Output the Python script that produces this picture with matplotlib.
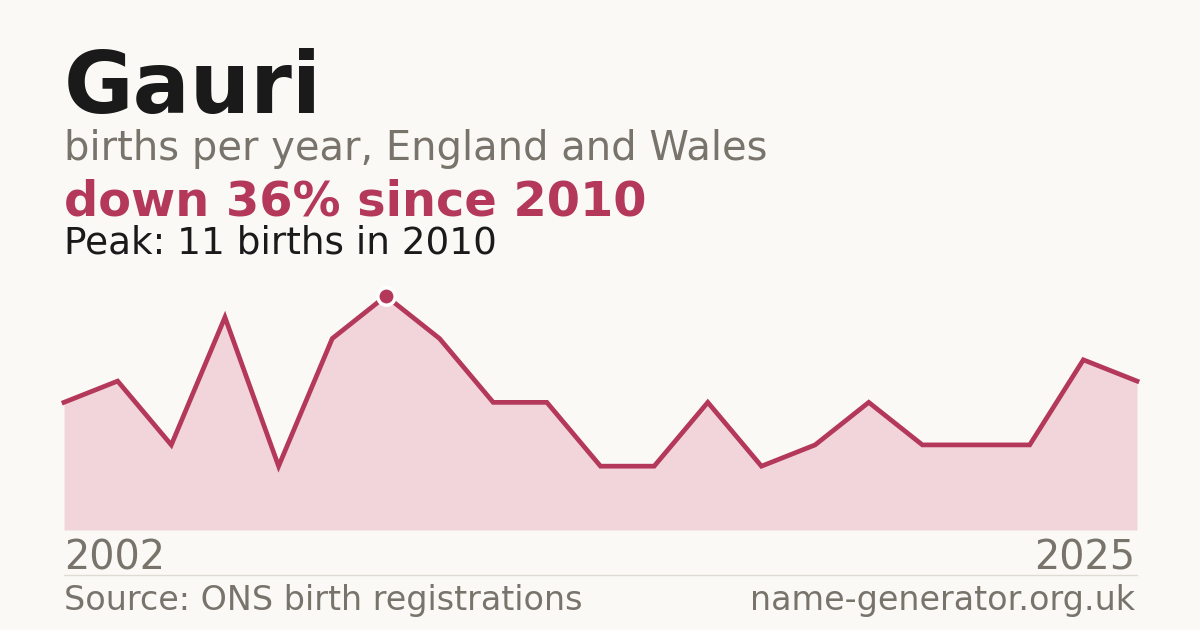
import matplotlib
matplotlib.use("Agg")
import matplotlib.pyplot as plt

name = "Gauri"
start_year = "2002"
end_year = "2025"
values = [6, 7, 4, 10, 3, 9, 11, 9, 6, 6, 3, 3, 6, 3, 4, 6, 4, 4, 4, 8, 7]
peak_index = 6

BG = "#faf9f5"
RED = "#b3385a"
FILL = "#f2d5db"
GRAY = "#78736b"
DARK = "#1a1a1a"

W, H = 1200, 630
fig = plt.figure(figsize=(12, 6.3), dpi=100, facecolor=BG)

def fx(px):
    return px / W

def fy(py):
    return 1 - py / H

# chart axes: x 64..1137, y baseline 530, top (value 11) at 296
ax = fig.add_axes([fx(64), fy(530), fx(1137) - fx(64), (530 - 296) / H])
ax.set_facecolor(BG)
xs = list(range(len(values)))
ax.fill_between(xs, values, 0, color=FILL, lw=0, zorder=1)
ax.plot(xs, values, color=RED, lw=3.4, solid_joinstyle="miter", zorder=2, clip_on=False)
ax.plot([xs[peak_index]], [values[peak_index]], "o", color=RED, ms=12.5,
        mec="white", mew=2.5, zorder=3, clip_on=False)
ax.set_xlim(0, len(values) - 1)
ax.set_ylim(0, max(values))
ax.axis("off")

fig.text(fx(64), fy(113), name, fontsize=61, fontweight="bold", color=DARK,
         ha="left", va="baseline")
fig.text(fx(64), fy(160), "births per year, England and Wales", fontsize=28.8,
         color=GRAY, ha="left", va="baseline")
fig.text(fx(64), fy(215), "down 36% since 2010", fontsize=34.5, fontweight="bold",
         color=RED, ha="left", va="baseline")
fig.text(fx(64), fy(254), "Peak: 11 births in 2010", fontsize=26.9, color=DARK,
         ha="left", va="baseline")

fig.text(fx(64), fy(569), start_year, fontsize=28.6, color=GRAY, ha="left", va="baseline")
fig.text(fx(1135), fy(569), end_year, fontsize=28.6, color=GRAY, ha="right", va="baseline")

fig.add_artist(plt.Line2D([fx(64), fx(1137)], [fy(574.5), fy(574.5)], color="#dedbd4", lw=1))

fig.text(fx(64), fy(610), "Source: ONS birth registrations", fontsize=24, color=GRAY,
         ha="left", va="baseline")
fig.text(fx(1135), fy(610), "name-generator.org.uk", fontsize=24, color=GRAY,
         ha="right", va="baseline")

fig.savefig("out.png", dpi=100, facecolor=BG)
